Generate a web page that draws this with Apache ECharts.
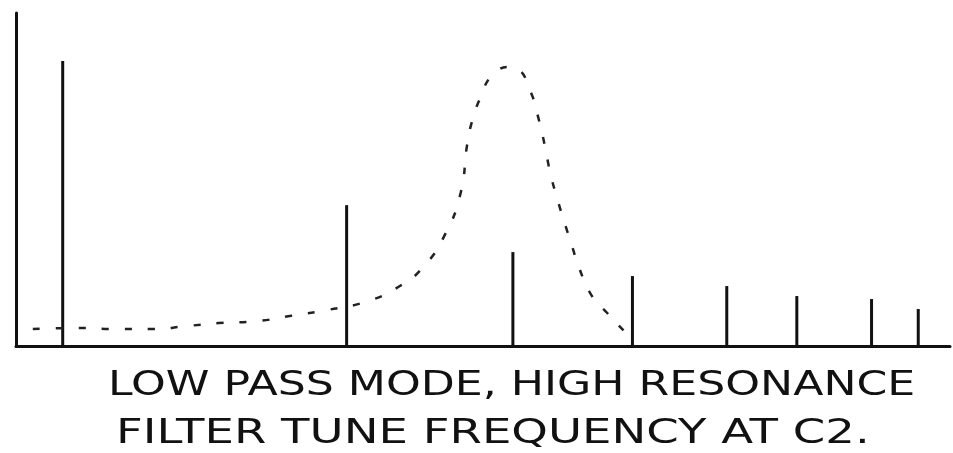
<!DOCTYPE html>
<html>
<head>
<meta charset="utf-8">
<script src="https://cdn.jsdelivr.net/npm/echarts@6/dist/echarts.min.js"></script>
<style>
html,body{margin:0;padding:0;background:#fff;}
#chart{width:953px;height:453px;}
</style>
</head>
<body>
<div id="chart"></div>
<script>
// Harmonic lines (position along frequency axis, arbitrary units) and heights
const harmonicFreq = [5.0, 35.4, 53.2, 66.0, 76.1, 83.6, 91.6, 96.6];
const harmonicLevel = [85.6, 42.3, 28.2, 21.0, 18.0, 15.0, 14.1, 11.1];

// Dashed filter response curve
const curveFreq = [1.8, 6.9, 10.6, 14.6, 18.3, 21.7, 25.9, 29.3, 33.3, 37.7, 41.1, 43.6, 45.9, 47.6, 48.3, 48.9, 49.7, 50.7, 51.8, 52.6, 53.7, 55.1, 55.9, 56.6, 57.2, 57.9, 58.7, 59.5, 60.3, 61.6, 63.3, 65.2, 66.0];
const curveLevel = [5.1, 5.4, 5.1, 5.1, 6.0, 6.9, 7.5, 9.0, 10.8, 13.5, 18.0, 23.7, 33.3, 45.9, 60.4, 68.2, 74.5, 80.5, 83.2, 83.8, 83.2, 76.3, 68.8, 60.4, 52.0, 44.7, 37.3, 30.3, 23.4, 15.3, 9.9, 4.2, 1.8];

const captionLines = ["LOW PASS MODE, HIGH RESONANCE", "FILTER TUNE FREQUENCY AT C2."];

const chart = echarts.init(document.getElementById('chart'));
chart.setOption({
  animation: false,
  backgroundColor: '#ffffff',
  grid: {left: 16, right: 3, top: 13, bottom: 107},
  xAxis: {
    type: 'value', min: 0, max: 100,
    axisLine: {show: true, onZero: false, lineStyle: {color: '#111', width: 3}},
    axisTick: {show: false}, axisLabel: {show: false}, splitLine: {show: false}
  },
  yAxis: {
    type: 'value', min: 0, max: 100,
    axisLine: {show: true, lineStyle: {color: '#111', width: 3}},
    axisTick: {show: false}, axisLabel: {show: false}, splitLine: {show: false}
  },
  series: [
    {
      type: 'bar',
      barWidth: 3,
      itemStyle: {color: '#111'},
      data: harmonicFreq.map((f, i) => [f, harmonicLevel[i]])
    },
    {
      type: 'line',
      smooth: 0.5,
      symbol: 'none',
      lineStyle: {color: '#222', width: 2.5, type: [7, 16]},
      data: curveFreq.map((f, i) => [f, curveLevel[i]])
    }
  ],
  graphic: [
    {type: 'text', x: 108, y: 369, scaleX: 1.3,
     style: {text: captionLines[0], x: 0, y: 0, align: 'left', verticalAlign: 'top', font: '34px "DejaVu Sans"', fill: '#111'}},
    {type: 'text', x: 116, y: 417, scaleX: 1.37,
     style: {text: captionLines[1], x: 0, y: 0, align: 'left', verticalAlign: 'top', font: '34px "DejaVu Sans"', fill: '#111'}}
  ]
});
</script>
</body>
</html>
